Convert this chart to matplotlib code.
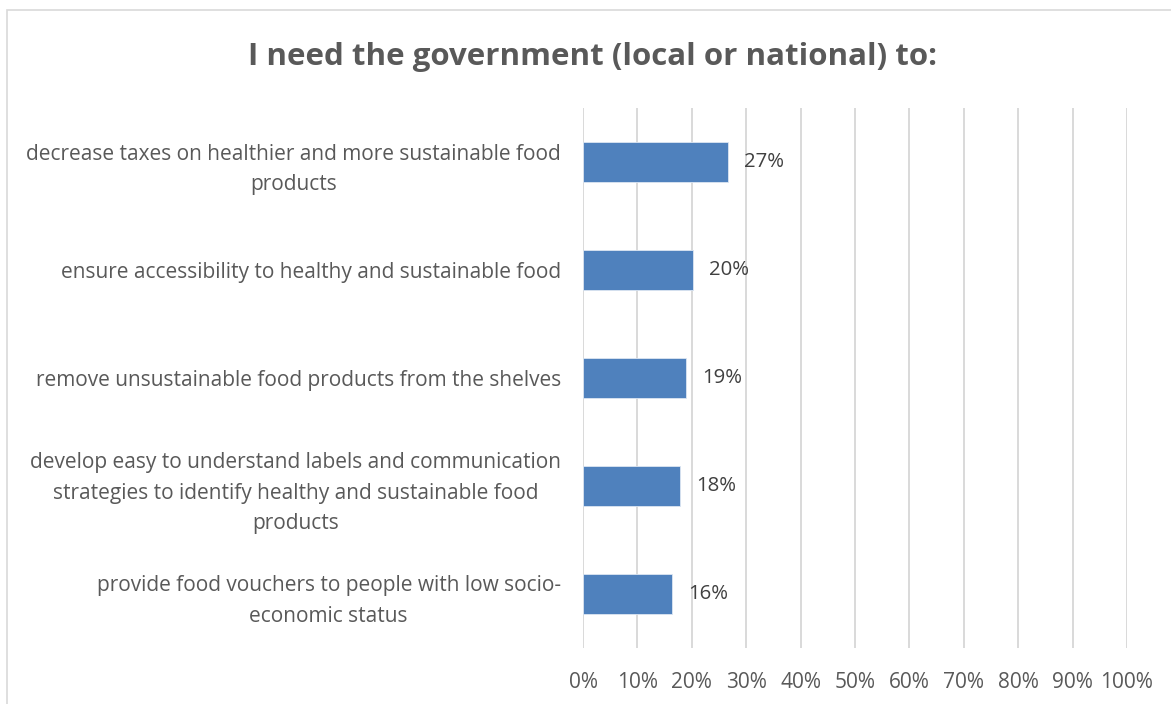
import matplotlib
matplotlib.use("Agg")
import matplotlib.pyplot as plt
from matplotlib.patches import Rectangle
from matplotlib.ticker import PercentFormatter

plt.rcParams['font.family'] = ['Open Sans', 'DejaVu Sans']

categories = [
    "decrease taxes on healthier and more sustainable food\nproducts",
    "ensure accessibility to healthy and sustainable food",
    "remove unsustainable food products from the shelves",
    "develop easy to understand labels and communication\nstrategies to identify healthy and sustainable food\nproducts",
    "provide food vouchers to people with low socio-\neconomic status",
]
shares = [26.6, 20.2, 18.9, 17.8, 16.4]
ticks = list(range(0, 101, 10))

fig = plt.figure(figsize=(11.71, 7.04), dpi=100)
ax = fig.add_axes([583 / 1171, 56 / 704, 544 / 1171, 540 / 704])

# outer chart frame
fig.patches.append(Rectangle((7 / 1171, -0.05), 1.2, (704 - 10) / 704 + 0.05,
                             transform=fig.transFigure, fill=False,
                             edgecolor="#D9D9D9", linewidth=1.2))

y = list(range(len(categories)))
bars = ax.barh(y, shares, height=0.37, color="#4F81BD", edgecolor="#DCE6F2",
               linewidth=0.6, zorder=3)
for rect, v in zip(bars, shares):
    ax.text(rect.get_width() + 3.0, rect.get_y() + rect.get_height() / 2,
            f"{v:.0f}%", va="center", ha="left", fontsize=14.7, color="#404040")

ax.set_ylim(len(categories) - 0.5, -0.5)
ax.set_xlim(0, 100)
ax.set_xticks(ticks)
ax.xaxis.set_major_formatter(PercentFormatter(decimals=0))
ax.set_yticks(y)
ax.set_yticklabels(categories)
for lab in ax.get_yticklabels():
    lab.set_multialignment("center")
    lab.set_linespacing(1.58)
ax.tick_params(axis="y", length=0, pad=16, labelsize=15, labelcolor="#595959")
ax.tick_params(axis="x", length=0, pad=17, labelsize=15, labelcolor="#595959")
ax.grid(axis="x", color="#D9D9D9", linewidth=1.4, zorder=0)
for s in ax.spines.values():
    s.set_visible(False)

fig.text(592 / 1171, 1 - 57 / 704, "I need the government (local or national) to:",
         ha="center", va="center", fontsize=22.5, fontweight="bold", color="#595959")

fig.savefig("out.png", dpi=100)
